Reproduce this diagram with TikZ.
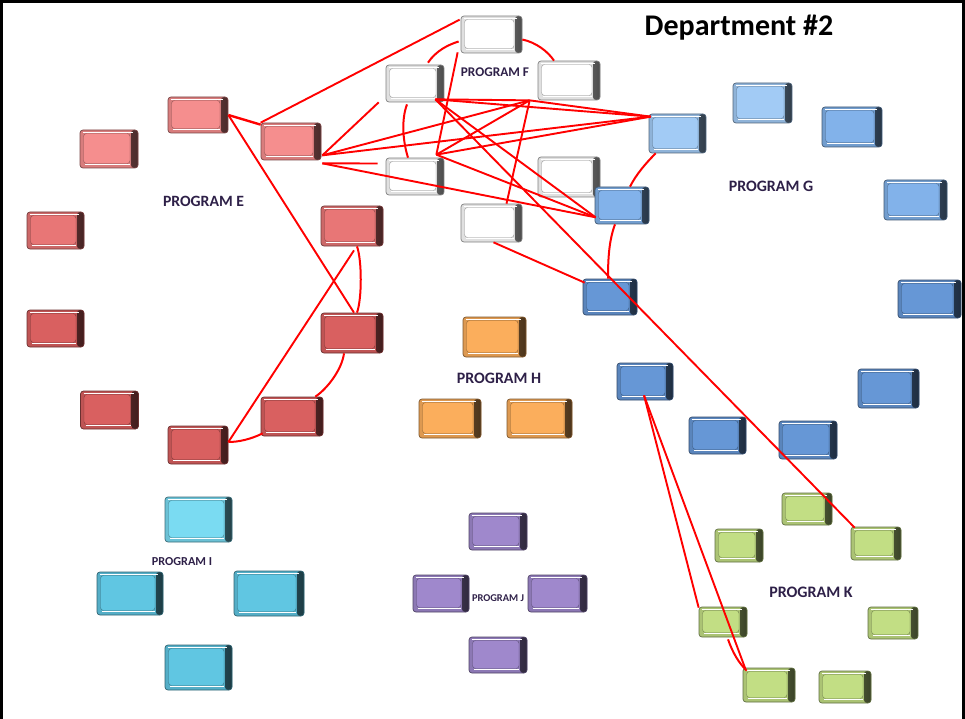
\documentclass[tikz,border=0pt]{standalone}
\usepackage{fontspec}
\setmainfont{Carlito}
\definecolor{redL}{HTML}{F58E8E}
\definecolor{redM}{HTML}{E87676}
\definecolor{redD}{HTML}{D96060}
\definecolor{whiteB}{HTML}{FFFFFF}
\definecolor{blueL}{HTML}{A2CBF5}
\definecolor{blueM}{HTML}{82B2EA}
\definecolor{blueD}{HTML}{6697D6}
\definecolor{orangeB}{HTML}{FBAE5C}
\definecolor{cyanL}{HTML}{7ADBF2}
\definecolor{cyanD}{HTML}{60C6E2}
\definecolor{purpleB}{HTML}{9F88CC}
\definecolor{greenB}{HTML}{C2DE84}
\definecolor{labc}{HTML}{2E2048}
\definecolor{linkred}{HTML}{FF0000}
\begin{document}
\begin{tikzpicture}[x=1pt,y=-1pt,
  pb/.style={draw=#1!50!black, line width=0.7pt, fill=#1!88!black, rounded corners=3pt, inner sep=0pt,
    path picture={
      \shade[left color=#1!70!black, right color=#1!30!black]
        ([xshift=-7pt]path picture bounding box.north east) rectangle (path picture bounding box.south east);
      \fill[#1, draw=#1!60!black, line width=0.4pt]
        ([shift={(3.5,3.5)}]path picture bounding box.north west) rectangle ([shift={(-8,-4.5)}]path picture bounding box.south east);
      \draw[white, line width=1.1pt]
        ([shift={(3,2.6)}]path picture bounding box.north west) -- ([shift={(-5,2.6)}]path picture bounding box.north east);
      \draw[white, line width=1pt]
        ([shift={(5,-3.2)}]path picture bounding box.south west) -- ([shift={(-8,-3.2)}]path picture bounding box.south east);
    }},
  lbl/.style={text=labc, inner sep=0pt, font=\fontsize{#1}{#1}\selectfont\bfseries},
  link/.style={draw=linkred, line width=1.9pt},
  arcl/.style={draw=linkred, line width=2pt}
]
\useasboundingbox (0,0) rectangle (965,719);
% frame
\draw[line width=3pt] (1.5,719) -- (1.5,1.5) -- (963,1.5) -- (963,719);

% ---------- Program E ----------
\node[pb=redL, minimum width=60, minimum height=36] (E1) at (198,115) {};
\node[pb=redL, minimum width=60, minimum height=37] (E2) at (291,141.5) {};
\node[pb=redL, minimum width=58, minimum height=38] (E3) at (109,149) {};
\node[pb=redM, minimum width=57, minimum height=37] (E4) at (55.5,230.5) {};
\node[pb=redD, minimum width=57, minimum height=37] (E5) at (55.5,328.5) {};
\node[pb=redD, minimum width=58, minimum height=38] (E6) at (109.5,410) {};
\node[pb=redD, minimum width=60, minimum height=38] (E7) at (198,445) {};
\node[pb=redD, minimum width=62, minimum height=39] (E8) at (292,416.5) {};
\node[pb=redD, minimum width=62, minimum height=40] (E9) at (352,333) {};
\node[pb=redM, minimum width=62, minimum height=40] (E10) at (352,226) {};
\node[lbl=15.7] (LE) at (203.5,201.5) {PROGRAM E};

% ---------- Program F ----------
\node[pb=whiteB, minimum width=61, minimum height=37] (F1) at (491.5,34.5) {};
\node[pb=whiteB, minimum width=58, minimum height=37] (F2) at (415,83.5) {};
\node[pb=whiteB, minimum width=62, minimum height=39] (F3) at (569,80.5) {};
\node[pb=whiteB, minimum width=58, minimum height=37] (F4) at (415,176.5) {};
\node[pb=whiteB, minimum width=62, minimum height=40] (F5) at (569,177) {};
\node[pb=whiteB, minimum width=61, minimum height=38] (F6) at (491.5,223) {};
\node[lbl=13.3] (LF) at (495,72.5) {PROGRAM F};

% ---------- Program G ----------
\node[pb=blueL, minimum width=57, minimum height=39] (G1) at (677.5,133.5) {};
\node[pb=blueL, minimum width=59, minimum height=40] (G2) at (762.5,103) {};
\node[pb=blueM, minimum width=60, minimum height=40] (G3) at (852,127) {};
\node[pb=blueM, minimum width=63, minimum height=40] (G4) at (915.5,200) {};
\node[pb=blueD, minimum width=63, minimum height=38] (G5) at (929.5,299) {};
\node[pb=blueD, minimum width=61, minimum height=39] (G6) at (888.5,388.5) {};
\node[pb=blueD, minimum width=58, minimum height=38] (G7) at (808,440) {};
\node[pb=blueD, minimum width=57, minimum height=37] (G8) at (717.5,435.5) {};
\node[pb=blueD, minimum width=56, minimum height=37] (G9) at (645,381.5) {};
\node[pb=blueD, minimum width=54, minimum height=36] (G10) at (610,297) {};
\node[pb=blueM, minimum width=54, minimum height=37] (G11) at (622,205.5) {};
\node[lbl=15.9] (LG) at (771,186) {PROGRAM G};

% ---------- Program H ----------
\node[pb=orangeB, minimum width=63, minimum height=40] (H1) at (494.5,337) {};
\node[pb=orangeB, minimum width=62, minimum height=39] (H2) at (450,418.5) {};
\node[pb=orangeB, minimum width=65, minimum height=39] (H3) at (539.5,418.5) {};
\node[lbl=15.9] (LH) at (499,378) {PROGRAM H};

% ---------- Program I ----------
\node[pb=cyanL, minimum width=67, minimum height=45] (I1) at (198.5,519.5) {};
\node[pb=cyanD, minimum width=66, minimum height=43] (I2) at (130,593.5) {};
\node[pb=cyanD, minimum width=70, minimum height=45] (I3) at (269,593.5) {};
\node[pb=cyanD, minimum width=67, minimum height=45] (I4) at (198.5,667.5) {};
\node[lbl=12.2] (LI) at (182,561.5) {PROGRAM I};

% ---------- Program J ----------
\node[pb=purpleB, minimum width=58, minimum height=37] (J1) at (498,531.5) {};
\node[pb=purpleB, minimum width=56, minimum height=37] (J2) at (441,593.5) {};
\node[pb=purpleB, minimum width=59, minimum height=37] (J3) at (557.5,593.5) {};
\node[pb=purpleB, minimum width=58, minimum height=36] (J4) at (498,655) {};
\node[lbl=10.4] (LJ) at (498,598) {PROGRAM J};

% ---------- Program K ----------
\node[pb=greenB, minimum width=50, minimum height=32] (K1) at (807,509) {};
\node[pb=greenB, minimum width=48, minimum height=33] (K2) at (739,545.5) {};
\node[pb=greenB, minimum width=50, minimum height=33] (K3) at (876,543.5) {};
\node[pb=greenB, minimum width=48, minimum height=30] (K4) at (723,622) {};
\node[pb=greenB, minimum width=50, minimum height=32] (K5) at (893,623) {};
\node[pb=greenB, minimum width=52, minimum height=34] (K6) at (769,685) {};
\node[pb=greenB, minimum width=52, minimum height=32] (K7) at (845,687) {};
\node[lbl=16] (LK) at (811,592.5) {PROGRAM K};

% title
\node[anchor=base, inner sep=0pt, font=\fontsize{30}{30}\selectfont\bfseries] (T) at (739,36) {Department \#2};

% ---------- hubs ----------
\coordinate (E2a) at ([shift={(1,-5)}]E2.south east);
\coordinate (E2b) at ([shift={(1,3)}]E2.south east);
\coordinate (F2h) at ([shift={(-9,-3)}]F2.south east);
\coordinate (F4h) at ([shift={(-8,-3)}]F4.north east);
\coordinate (Fh) at ([shift={(-8,0)}]F3.south west);
\coordinate (G1h) at ([shift={(2,3)}]G1.north west);
\coordinate (G11h) at ([shift={(1,-7)}]G11.south west);
\coordinate (G9h) at ([shift={(-1,-5)}]G9.south);

% ---------- curved links ----------
\draw[arcl] ([xshift=5pt]E10.south) .. controls +(5,14) and +(5,-14) .. ([xshift=5pt]E9.north);
\draw[arcl] ([xshift=-8pt]E9.south) .. controls +(-2,16) and +(12,-8) .. ([xshift=-8pt]E8.north east);
\draw[arcl] ([shift={(2,-3)}]E8.south west) .. controls +(-12,6) and +(10,0) .. ([shift={(0,-3)}]E7.east);
\draw[arcl] ([shift={(13,-2)}]F2.north) .. controls +(8,-12) and +(-10,3) .. ([shift={(-2,7)}]F1.west);
\draw[arcl] ([shift={(0,5)}]F1.east) .. controls +(14,3) and +(-6,-9) .. ([shift={(-15,0)}]F3.north);
\draw[arcl] ([shift={(-8,2)}]F2.south) .. controls +(-6,16) and +(-5,-16) .. ([shift={(-7,0)}]F4.north);
\draw[arcl] ([xshift=7pt]G1.south west) .. controls +(-10,10) and +(6,-12) .. ([xshift=8pt]G11.north);
\draw[arcl] ([xshift=-7pt]G11.south) .. controls +(-6,16) and +(0,-20) .. ([xshift=-2pt]G10.north);
\draw[arcl] ([shift={(5,2)}]K4.south) .. controls +(5,14) and +(-8,-8) .. ([shift={(4,3)}]K6.north west);

% ---------- straight links ----------
\draw[link, line width=2.4pt] (E1.east) -- ([shift={(0,2)}]E2.north west);
\draw[link] (E1.east) -- ([xshift=2pt]E9.north);
\draw[link] ([shift={(0,-3)}]E7.east) -- ([shift={(2,4)}]E10.south);
\draw[link] (E2.north west) -- ([shift={(-1,4)}]F1.north west);
\draw[link] (E2a) -- ([xshift=-7pt]F2.south west);
\draw[link] (E2a) -- (Fh);
\draw[link] (E2a) -- (G1h);
\draw[link] (E2b) -- ([shift={(-8,-13)}]F4.west);
\draw[link] (E2b) -- (G11h);
\draw[link] ([shift={(-3,-1)}]F1.south west) -- (F4h);
\draw[link] (F2h) -- (Fh);
\draw[link] (F2h) -- (G1h);
\draw[link] (F2h) -- (G11h);
\draw[link] (F2h) -- ([shift={(4,1)}]K3.north west);
\draw[link] (F4h) -- (Fh);
\draw[link] (F4h) -- (G1h);
\draw[link] (F4h) -- (G11h);
\draw[link] (Fh) -- ([xshift=15pt]F6.north);
\draw[link] (Fh) -- (G1h);
\draw[link] ([xshift=2pt]F6.south) -- ([shift={(2,4)}]G10.north west);
\draw[link] (G9h) -- ([shift={(0,1)}]K4.north west);
\draw[link] (G9h) -- ([shift={(3,2)}]K6.north west);
\end{tikzpicture}
\end{document}
